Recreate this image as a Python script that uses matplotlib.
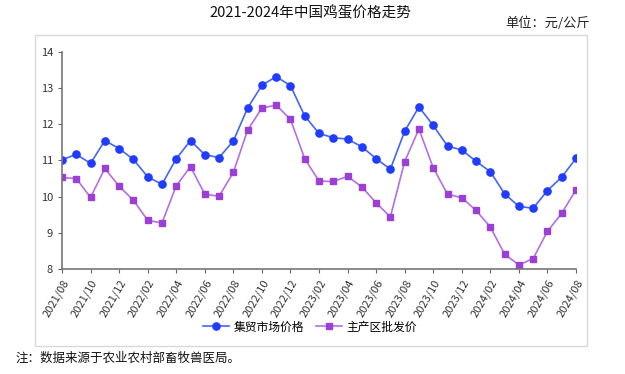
import matplotlib
matplotlib.use("Agg")
import matplotlib.pyplot as plt
from matplotlib.patches import Rectangle

plt.rcParams['font.family'] = ['Noto Sans CJK SC', 'DejaVu Sans']

months = [f"{y}/{m:02d}" for y, m in
          [(2021, m) for m in range(8, 13)] + [(2022, m) for m in range(1, 13)] +
          [(2023, m) for m in range(1, 13)] + [(2024, m) for m in range(1, 9)]]

market = [11.02, 11.17, 10.92, 11.55, 11.33, 11.03, 10.55, 10.34, 11.05, 11.55,
          11.16, 11.08, 11.54, 12.45, 13.08, 13.32, 13.07, 12.23, 11.75, 11.63,
          11.59, 11.38, 11.05, 10.76, 11.81, 12.48, 11.97, 11.40, 11.29, 10.98,
          10.69, 10.08, 9.73, 9.68, 10.17, 10.54, 11.06]
wholesale = [10.53, 10.50, 9.98, 10.78, 10.29, 9.90, 9.35, 9.27, 10.30, 10.83,
             10.07, 10.01, 10.67, 11.84, 12.45, 12.53, 12.14, 11.05, 10.43, 10.42,
             10.56, 10.27, 9.83, 9.44, 10.97, 11.87, 10.80, 10.07, 9.97, 9.62,
             9.16, 8.41, 8.11, 8.29, 9.04, 9.54, 10.19]

title = "2021-2024年中国鸡蛋价格走势"
unit = "单位：元/公斤"
note = "注：数据来源于农业农村部畜牧兽医局。"
labels = ["集贸市场价格", "主产区批发价"]

W, H = 625, 374
fig = plt.figure(figsize=(W / 100, H / 100), dpi=100)

# outer border box
fig.patches.append(Rectangle((35 / W, 1 - 346 / H), (587 - 35) / W, (346 - 35) / H,
                             transform=fig.transFigure, fill=False,
                             edgecolor='#d9d9d9', linewidth=1.0))

ax = fig.add_axes([62 / W, 1 - 269 / H, (576 - 62) / W, (269 - 52) / H])
x = list(range(len(months)))
ax.plot(x, market, color='#4466f5', linewidth=1.2, marker='o', markersize=5.2,
        markerfacecolor='#1f3cff', markeredgecolor='#1f3cff', label=labels[0])
ax.plot(x, wholesale, color='#b56fe0', linewidth=1.2, marker='s', markersize=4.7,
        markerfacecolor='#9b3fd6', markeredgecolor='#9b3fd6', label=labels[1])

ax.set_xlim(0, len(months) - 1)
ax.set_ylim(8, 14)
ax.set_yticks(range(8, 15))
ax.set_xticks(x[::2])
ax.set_xticklabels(months[::2], rotation=60, ha='right', rotation_mode='anchor',
                   fontsize=8, color='#333333')
ax.tick_params(axis='y', labelsize=8, labelcolor='#333333', length=3, color='#666666')
ax.tick_params(axis='x', length=3, color='#666666')
for s in ['top', 'right']:
    ax.spines[s].set_visible(False)
for s in ['left', 'bottom']:
    ax.spines[s].set_color('#777777')
    ax.spines[s].set_linewidth(1.2)

fig.legend(loc='center', bbox_to_anchor=(310 / W, 1 - 327 / H), ncol=2, frameon=False,
           fontsize=8.5, handlelength=2.2, columnspacing=1.0, handletextpad=0.4)

fig.text(310 / W, 1 - 13 / H, title, ha='center', va='center', fontsize=10.5, color='#111111')
fig.text(590 / W, 1 - 23 / H, unit, ha='right', va='center', fontsize=9.5, color='#222222')
fig.text(15 / W, 1 - 358 / H, note, ha='left', va='center', fontsize=9, color='#111111')

fig.savefig('out.png', dpi=100)
